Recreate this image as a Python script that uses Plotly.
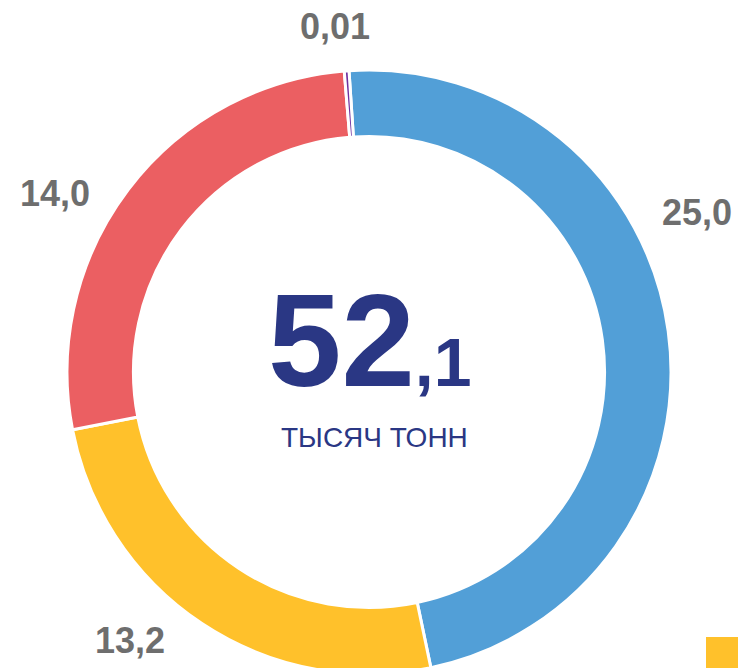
import plotly.graph_objects as go

categories = ["A", "B", "C", "D"]
values = [25.0, 13.2, 14.0, 0.01]
value_labels = ["25,0", "13,2", "14,0", "0,01"]
colors = ["#529FD7", "#FFC12B", "#EB5F62", "#7030A0"]
total_label_int = "52"
total_label_frac = ",1"
unit_label = "ТЫСЯЧ ТОНН"

total = sum(values)
min_visible = 0.0025 * total
plot_sizes = [max(v, min_visible) for v in values]

W, H = 738, 680
fig = go.Figure()
fig.add_trace(go.Pie(
    labels=categories,
    values=plot_sizes,
    text=value_labels,
    sort=False,
    direction="clockwise",
    rotation=-3.8,
    hole=0.78,
    marker=dict(colors=colors, line=dict(color="white", width=3)),
    textinfo="none",
    hoverinfo="text",
    showlegend=False,
    domain=dict(x=[0.0, 1.0], y=[6 / H, 1 - 70 / H]),
))

label_pos = [(697, 212), (130, 640), (55, 193), (335, 27)]
for (px, py), t in zip(label_pos, value_labels):
    fig.add_annotation(
        x=px / W, y=1 - py / H, xref="paper", yref="paper",
        text="<b>%s</b>" % t, showarrow=False,
        font=dict(family="Liberation Sans, Arial", size=36, color="#6E6E6E"),
        xanchor="center", yanchor="middle",
    )

fig.add_annotation(
    x=370 / W, y=1 - 416 / H, xref="paper", yref="paper",
    text="<b>%s<span style='font-size:68px'>%s</span></b>" % (total_label_int, total_label_frac),
    showarrow=False, xanchor="center", yanchor="bottom",
    font=dict(family="Liberation Sans, Arial", size=132, color="#2A3784"),
)
fig.add_annotation(
    x=374 / W, y=1 - 437 / H, xref="paper", yref="paper",
    text=unit_label, showarrow=False, xanchor="center", yanchor="middle",
    font=dict(family="Liberation Sans, Arial", size=28, color="#2A3784"),
)

fig.add_shape(type="rect", xref="paper", yref="paper",
              x0=706 / W, x1=1.0, y0=0, y1=1 - 637 / H,
              fillcolor=colors[1], line=dict(width=0))

fig.update_layout(
    width=W, height=H, margin=dict(l=0, r=0, t=0, b=0),
    paper_bgcolor="white", plot_bgcolor="white",
)
fig.write_html(
    "out.html",
    config={"displayModeBar": False},
    post_script="document.body.style.margin='0';document.body.style.overflow='hidden';",
)
